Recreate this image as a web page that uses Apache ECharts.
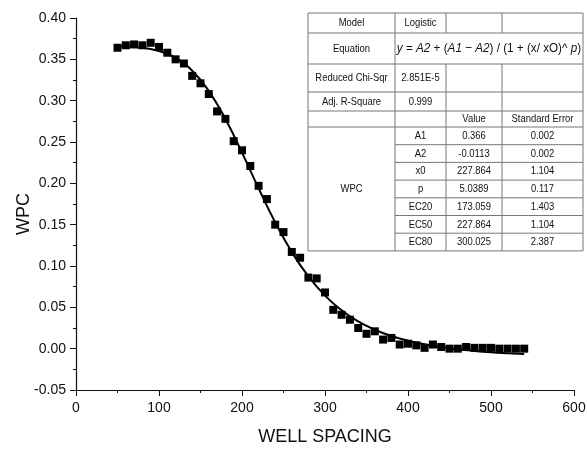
<!DOCTYPE html>
<html>
<head>
<meta charset="utf-8">
<script src="https://cdn.jsdelivr.net/npm/echarts@6/dist/echarts.min.js"></script>
<style>
  html, body { margin: 0; padding: 0; background: #fff; }
  #chart { width: 587px; height: 450px; }
</style>
</head>
<body>
<div id="chart"></div>
<script>
var FONT = '"Liberation Sans", Arial, sans-serif';

// measured points
var spacing = [50, 60, 70, 80, 90, 100, 110, 120, 130, 140, 150, 160, 170, 180, 190, 200, 210, 220, 230, 240,
  250, 260, 270, 280, 290, 300, 310, 320, 330, 340, 350, 360, 370, 380, 390, 400, 410, 420, 430, 440,
  450, 460, 470, 480, 490, 500, 510, 520, 530, 540];
var wpc = [0.364, 0.367, 0.368, 0.367, 0.370, 0.365, 0.358, 0.350, 0.345, 0.330, 0.321, 0.308, 0.287, 0.278, 0.251, 0.240, 0.221, 0.197, 0.181, 0.150,
  0.141, 0.117, 0.110, 0.086, 0.085, 0.068, 0.047, 0.041, 0.035, 0.025, 0.018, 0.021, 0.011, 0.013, 0.005, 0.006, 0.004, 0.001, 0.005, 0.002,
  0.000, 0.000, 0.002, 0.001, 0.001, 0.001, 0.000, 0.000, 0.000, 0.000];

// fitted curve
var fitX = [50, 80, 100, 120, 140, 160, 180, 200, 220, 240, 260, 280, 300, 320, 340, 360, 380, 400, 420, 440, 460, 480, 500, 520, 540];
var fitY = [0.3658, 0.3641, 0.3601, 0.3517, 0.3362, 0.3116, 0.2779, 0.2372, 0.1940, 0.1528, 0.1169, 0.0874, 0.0642, 0.0465, 0.0330,
  0.0229, 0.0153, 0.0096, 0.0053, 0.0019, -0.0007, -0.0027, -0.0043, -0.0055, -0.0065];

// fit summary table
var tableTop = [
  ['Model', 'Logistic', '', ''],
  ['Equation', null, null, null],
  ['Reduced Chi-Sqr', '2.851E-5', '', ''],
  ['Adj. R-Square', '0.999', '', ''],
  ['', '', 'Value', 'Standard Error']
];
var paramNames = ['A1', 'A2', 'x0', 'p', 'EC20', 'EC50', 'EC80'];
var paramValues = ['0.366', '-0.0113', '227.864', '5.0389', '173.059', '227.864', '300.025'];
var paramErrors = ['0.002', '0.002', '1.104', '0.117', '1.403', '1.104', '2.387'];

var points = spacing.map(function (x, i) { return [x, wpc[i]]; });
var fit = fitX.map(function (x, i) { return [x, fitY[i]]; });

// table layout
var colX = [308, 395, 446, 502, 583];
var rowY = [13, 33, 64, 92, 111, 127];
for (var r = 1; r <= paramNames.length; r++) rowY.push(127 + r * 17.7);
var lineColor = '#777';
var g = [];
function hline(x1, x2, y) {
  g.push({ type: 'line', shape: { x1: x1, y1: y, x2: x2, y2: y }, style: { stroke: lineColor, lineWidth: 1 }, z: 10 });
}
function vline(x, y1, y2) {
  g.push({ type: 'line', shape: { x1: x, y1: y1, x2: x, y2: y2 }, style: { stroke: lineColor, lineWidth: 1 }, z: 10 });
}
// narrow look: squeeze text horizontally
function cellText(txt, c1, c2, r1, r2) {
  g.push({
    type: 'text', z: 11,
    x: (colX[c1] + colX[c2]) / 2, y: (rowY[r1] + rowY[r2]) / 2,
    scaleX: 0.82,
    style: {
      text: txt, x: 0, y: 0,
      align: 'center', verticalAlign: 'middle', fill: '#111',
      font: '11.5px ' + FONT
    }
  });
}
var last = rowY.length - 1;
g.push({ type: 'rect', shape: { x: colX[0], y: rowY[0], width: colX[4] - colX[0], height: rowY[last] - rowY[0] },
  style: { fill: '#fff', stroke: lineColor, lineWidth: 1 }, z: 9 });
for (var i = 1; i <= 5; i++) hline(colX[0], colX[4], rowY[i]);
for (var i = 6; i < last; i++) hline(colX[1], colX[4], rowY[i]);
vline(colX[1], rowY[0], rowY[last]);
[2, 3].forEach(function (c) {
  vline(colX[c], rowY[0], rowY[1]);
  vline(colX[c], rowY[2], rowY[last]);
});
tableTop.forEach(function (row, r) {
  row.forEach(function (t, c) { if (t) cellText(t, c, c + 1, r, r + 1); });
});
cellText('WPC', 0, 1, 5, last);
paramNames.forEach(function (t, i) {
  cellText(t, 1, 2, 5 + i, 6 + i);
  cellText(paramValues[i], 2, 3, 5 + i, 6 + i);
  cellText(paramErrors[i], 3, 4, 5 + i, 6 + i);
});
g.push({
  type: 'text', z: 11,
  x: (colX[1] + colX[4]) / 2, y: (rowY[1] + rowY[2]) / 2,
  scaleX: 0.9,
  style: {
    text: '{i|y} = {i|A2} + ({i|A1} \u2212 {i|A2}) / (1 + (x/ xO)^ {i|p})',
    x: 0, y: 0,
    align: 'center', verticalAlign: 'middle', fill: '#111',
    font: '13px ' + FONT,
    rich: { i: { fontStyle: 'italic', fontSize: 13, fontFamily: FONT, fill: '#111' } }
  }
});
// y axis title
g.push({
  type: 'text', z: 11, x: 24, y: 214, rotation: Math.PI / 2,
  style: { text: 'WPC', x: 0, y: 0, align: 'center', verticalAlign: 'middle',
    fill: '#111', font: '18px ' + FONT }
});

var chart = echarts.init(document.getElementById('chart'), null, { renderer: 'canvas' });
var option = {
  animation: false,
  backgroundColor: '#fff',
  grid: { left: 76, right: 13, top: 18, bottom: 60, containLabel: false, outerBoundsMode: 'none' },
  xAxis: {
    type: 'value', min: 0, max: 600, interval: 100,
    name: 'WELL SPACING', nameLocation: 'middle', nameGap: 38,
    nameTextStyle: { fontSize: 18, fontFamily: FONT, color: '#111' },
    axisLine: { show: true, onZero: false, lineStyle: { color: '#111', width: 1.2 } },
    axisTick: { show: true, inside: false, length: 6, lineStyle: { color: '#111' } },
    minorTick: { show: true, splitNumber: 2, length: 3, lineStyle: { color: '#111' } },
    axisLabel: { fontSize: 14, fontFamily: FONT, color: '#111', margin: 11 },
    splitLine: { show: false }
  },
  yAxis: {
    type: 'value', min: -0.05, max: 0.40, interval: 0.05,
    axisLine: { show: true, onZero: false, lineStyle: { color: '#111', width: 1.2 } },
    axisTick: { show: true, inside: false, length: 6, lineStyle: { color: '#111' } },
    minorTick: { show: true, splitNumber: 2, length: 3, lineStyle: { color: '#111' } },
    axisLabel: { fontSize: 14, fontFamily: FONT, color: '#111', margin: 10,
      formatter: function (v) { return v.toFixed(2); } },
    splitLine: { show: false }
  },
  series: [
    {
      name: 'fit', type: 'line', data: fit, smooth: true, showSymbol: false,
      lineStyle: { color: '#000', width: 2 }, z: 2
    },
    {
      name: 'WPC', type: 'scatter', data: points, symbol: 'rect', symbolSize: 8,
      itemStyle: { color: '#000', opacity: 1 }, z: 3
    }
  ],
  graphic: g
};
chart.setOption(option);
</script>
</body>
</html>
